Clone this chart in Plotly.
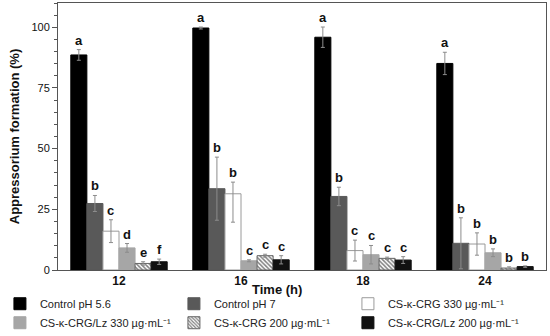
import plotly.graph_objects as go

times = ["12", "16", "18", "24"]
series_names = [
    "Control pH 5.6",
    "Control pH 7",
    "CS-κ-CRG 330 µg·mL⁻¹",
    "CS-κ-CRG/Lz 330 µg·mL⁻¹",
    "CS-κ-CRG 200 µg·mL⁻¹",
    "CS-κ-CRG/Lz 200 µg·mL⁻¹",
]
control_56 = [88.6, 99.7, 95.9, 85.1]
control_7 = [27.4, 33.5, 30.3, 11.0]
cs_330 = [16.0, 31.4, 8.0, 10.7]
cslz_330 = [9.1, 3.8, 6.3, 7.1]
cs_200 = [2.7, 5.9, 4.8, 0.8]
cslz_200 = [3.4, 4.2, 4.1, 1.4]

err_control_56 = [2.2, 0.4, 4.2, 4.6]
err_control_7 = [3.3, 13.0, 3.8, 10.5]
err_cs_330_up = [4.7, 4.8, 4.3, 4.6]
err_cs_330_down = [4.7, 11.7, 4.3, 4.6]
err_cslz_330 = [1.8, 0.4, 3.8, 1.6]
err_cs_200 = [0.7, 0.6, 0.5, 0.5]
err_cslz_200 = [1.1, 1.7, 1.4, 0.3]

letters_control_56 = ["a", "a", "a", "a"]
letters_control_7 = ["b", "b", "b", "b"]
letters_cs_330 = ["c", "b", "c", "b"]
letters_cslz_330 = ["d", "c", "c", "b"]
letters_cs_200 = ["e", "c", "c", "b"]
letters_cslz_200 = ["f", "c", "c", "b"]

values = [control_56, control_7, cs_330, cslz_330, cs_200, cslz_200]
errs_up = [err_control_56, err_control_7, err_cs_330_up, err_cslz_330, err_cs_200, err_cslz_200]
errs_down = [err_control_56, err_control_7, err_cs_330_down, err_cslz_330, err_cs_200, err_cslz_200]
letters = [letters_control_56, letters_control_7, letters_cs_330, letters_cslz_330,
           letters_cs_200, letters_cslz_200]

fills = ["#000000", "#595959", "#ffffff", "#a6a6a6", "#ffffff", "#111111"]
lines = ["#000000", "#595959", "#9a9a9a", "#a6a6a6", "#666666", "#111111"]

xpos = list(range(len(times)))
bargap = 0.21
n = len(values)
bw = (1 - bargap) / n

fig = go.Figure()
for j, (name, vals, eu, ed) in enumerate(zip(series_names, values, errs_up, errs_down)):
    marker = dict(color=fills[j], line=dict(color=lines[j], width=1))
    if j == 4:
        marker["pattern"] = dict(shape="\\", fgcolor="#000000", bgcolor="#ffffff",
                                 size=3, solidity=0.5)
    fig.add_trace(go.Bar(
        name=name, x=xpos, y=vals, marker=marker,
        error_y=dict(type="data", symmetric=False, array=eu, arrayminus=ed,
                     color="#8c8c8c", thickness=1, width=2),
    ))
    for i in xpos:
        xc = i - (1 - bargap) / 2 + bw * (j + 0.5)
        fig.add_annotation(x=xc, y=vals[i] + eu[i], text=f"<b>{letters[j][i]}</b>",
                           showarrow=False, yanchor="bottom", xanchor="center",
                           font=dict(family="Arial", size=13, color="#111111"))

fig.add_annotation(x=0.449, y=0, xref="paper", yref="paper", text="<b>Time (h)</b>",
                   showarrow=False, yanchor="middle", yshift=-19,
                   font=dict(family="Arial", size=13, color="#111111"))

fig.update_layout(
    width=550, height=336,
    margin=dict(l=58, r=4, t=3, b=66, autoexpand=False),
    barmode="group", bargap=bargap, bargroupgap=0,
    plot_bgcolor="#ffffff", paper_bgcolor="#ffffff",
    font=dict(family="Arial", color="#111111"),
    showlegend=True,
    legend=dict(orientation="h", x=-0.119, xanchor="left", y=-0.072, yanchor="top",
                entrywidth=129, entrywidthmode="pixels", tracegroupgap=0,
                font=dict(family="Arial", size=11, color="#222222"),
                itemwidth=30, traceorder="normal", bgcolor="rgba(0,0,0,0)"),
)
fig.update_xaxes(
    tickmode="array", tickvals=xpos, ticktext=[f"<b>{t}</b>" for t in times],
    range=[-0.5, len(times) - 0.5], showline=True, linecolor="#555555", linewidth=1,
    mirror=True, ticks="", showgrid=False, zeroline=False,
    tickfont=dict(family="Arial", size=12, color="#111111"),
)
fig.update_yaxes(
    range=[0, 110], tickvals=[0, 25, 50, 75, 100], showline=True, linecolor="#555555",
    linewidth=1, mirror=True, ticks="outside", ticklen=5, tickcolor="#555555",
    showgrid=False, zeroline=False,
    minor=dict(dtick=5, ticks="outside", ticklen=3, tickcolor="#555555"),
    tickfont=dict(family="Arial", size=11, color="#111111"), tickprefix="<b>", ticksuffix="</b>",
    title=dict(text="<b>Appressorium formation (%)</b>", standoff=8,
               font=dict(family="Arial", size=13, color="#111111")),
)

fig.write_html("out.html", config={"displayModeBar": False},
               post_script="document.body.style.margin='0';")
